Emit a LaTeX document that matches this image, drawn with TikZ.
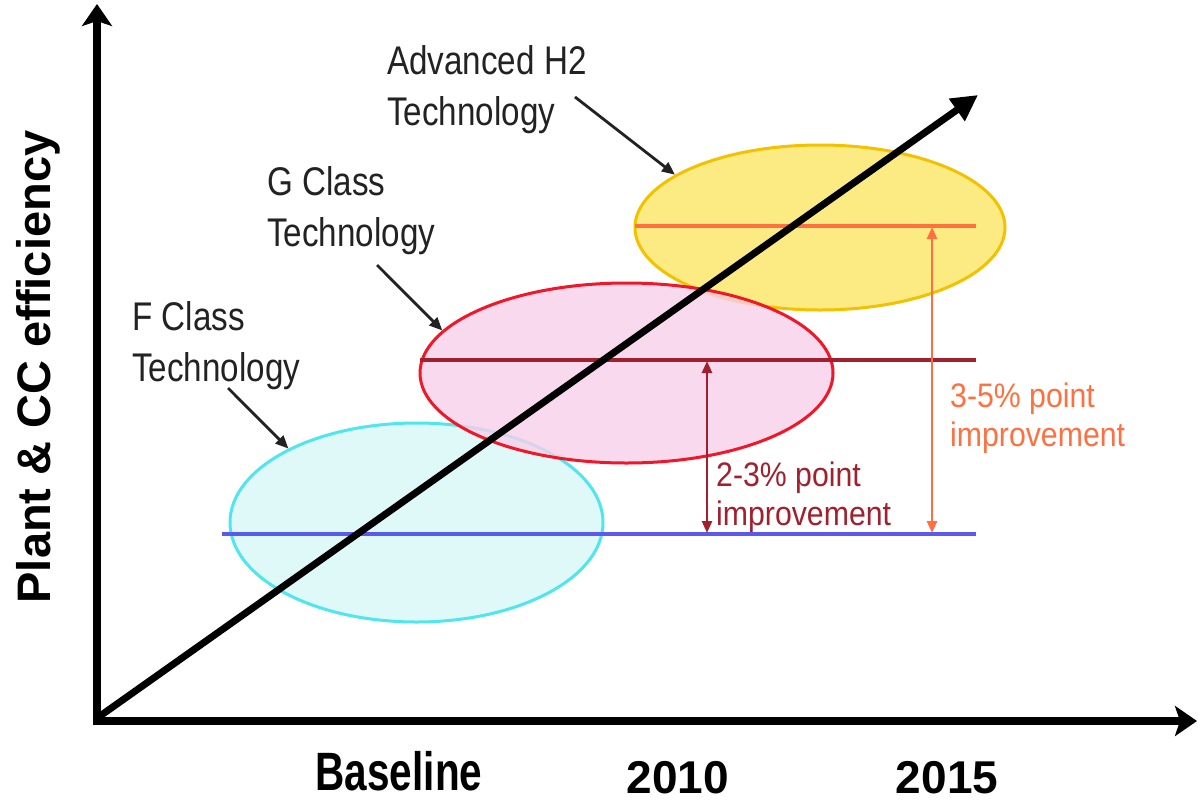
\documentclass[tikz,border=0pt]{standalone}
\usepackage{fontspec}
\setmainfont{Liberation Sans}
\newfontfamily\labfont[FakeStretch=0.83]{Liberation Sans}
\newfontfamily\imprfont[FakeStretch=0.89]{Liberation Sans}
\newfontfamily\basefont[FakeStretch=0.75]{Liberation Sans}
\usetikzlibrary{shapes.geometric,arrows.meta}
\definecolor{cyanfill}{HTML}{DFF9F9}
\definecolor{cyanline}{HTML}{4FE6EE}
\definecolor{pinkfill}{HTML}{F7D0EA}
\definecolor{redline}{HTML}{F01828}
\definecolor{yelfill}{HTML}{FCEB82}
\definecolor{yelline}{HTML}{F2C200}
\definecolor{blueline}{HTML}{5A5AF0}
\definecolor{darkred}{HTML}{A0202E}
\definecolor{orangeline}{HTML}{FF7040}
\definecolor{labgray}{HTML}{222222}
\tikzset{
  oval/.style={ellipse, inner sep=0pt, line width=3pt},
  techlabel/.style={anchor=north west, inner sep=0pt, align=left, text=labgray,
     font=\labfont\fontsize{40}{51}\selectfont},
  pointer/.style={line width=2.8pt, labgray, -{Triangle[length=13pt,width=11pt]}},
  levelline/.style={line width=3.2pt},
  gap/.style={line width=2.6pt, {Triangle[length=12pt,width=10pt]}-{Triangle[length=12pt,width=10pt]}},
  imprlabel/.style={anchor=north west, inner sep=0pt, align=left,
     font=\imprfont\fontsize{34}{39}\selectfont},
  axis/.style={line width=8pt, black, -{Stealth[length=22pt,width=30pt,inset=5pt]}},
  yearlabel/.style={anchor=base, inner sep=0pt, font=\bfseries\fontsize{46}{46}\selectfont}
}
\begin{document}
\begin{tikzpicture}[x=1pt,y=-1pt]
\useasboundingbox[fill=white] (0,0) rectangle (1198,801);
% ellipses
\node[oval, draw=cyanline, fill=cyanfill, minimum width=373pt, minimum height=199pt] (fE) at (416.5,522.5) {};
\node[oval, draw=yelline, fill=yelfill, minimum width=370pt, minimum height=165pt] (aE) at (820,227.5) {};
\node[oval, draw=redline, fill=pinkfill, fill opacity=0.8, minimum width=413pt, minimum height=180pt] (gE) at (626.5,373) {};
% level lines
\coordinate (bL) at (222,534);
\coordinate (bR) at (976,534);
\coordinate (rL) at (420,360);
\coordinate (rR) at (976,360);
\coordinate (oL) at (635,226);
\coordinate (oR) at (976,226);
\draw[levelline, blueline] (bL) -- (bR);
\draw[levelline, darkred] (rL) -- (rR);
\draw[levelline, orangeline] (oL) -- (oR);
% gap arrows
\coordinate (g1t) at (707,361);
\coordinate (g1b) at (707,533);
\coordinate (g2t) at (932,227);
\coordinate (g2b) at (932,533);
\draw[gap, darkred] (g1t) -- (g1b);
\draw[gap, orangeline] (g2t) -- (g2b);
\node[imprlabel, text=darkred] (i23) at (716,462) {2-3\% point\\improvement};
\node[imprlabel, text=orangeline] (i35) at (950,383) {3-5\% point\\improvement};
% axes
\coordinate (O) at (97,721);
\coordinate (yT) at (97,4);
\coordinate (xT) at (1197,721);
\draw[axis] ([yshift=4pt]O) -- (yT);
\draw[axis] ([xshift=-4pt]O) -- (xT);
% main trend arrow
\coordinate (dS) at (100,716);
\coordinate (dT) at (978,95);
\draw[line width=7pt, black, -{Triangle[length=26pt,width=26pt]}] (dS) -- (dT);
% technology labels
\node[techlabel] (aL) at (387,45) {Advanced H2\\Technology};
\node[techlabel] (gL) at (267,166) {G Class\\Technology};
\node[techlabel] (fL) at (132,301) {F Class\\Technology};
\coordinate (aS) at (575,97);
\coordinate (gS) at (377,265);
\coordinate (fS) at (228,388);
\draw[pointer] (aS) -- (aE.160);
\draw[pointer] (gS) -- (gE.167);
\draw[pointer] (fS) -- (fE.150);
% axis labels
\node[anchor=base, inner sep=0pt, rotate=90, font=\bfseries\fontsize{47}{47}\selectfont] (yl) at (50,367) {Plant \& CC efficiency};
\node[yearlabel, font=\basefont\bfseries\fontsize{54}{54}\selectfont] (bl) at (399,790) {Baseline};
\node[yearlabel] (y10) at (678,793) {2010};
\node[yearlabel] (y15) at (947,793) {2015};
\end{tikzpicture}
\end{document}
